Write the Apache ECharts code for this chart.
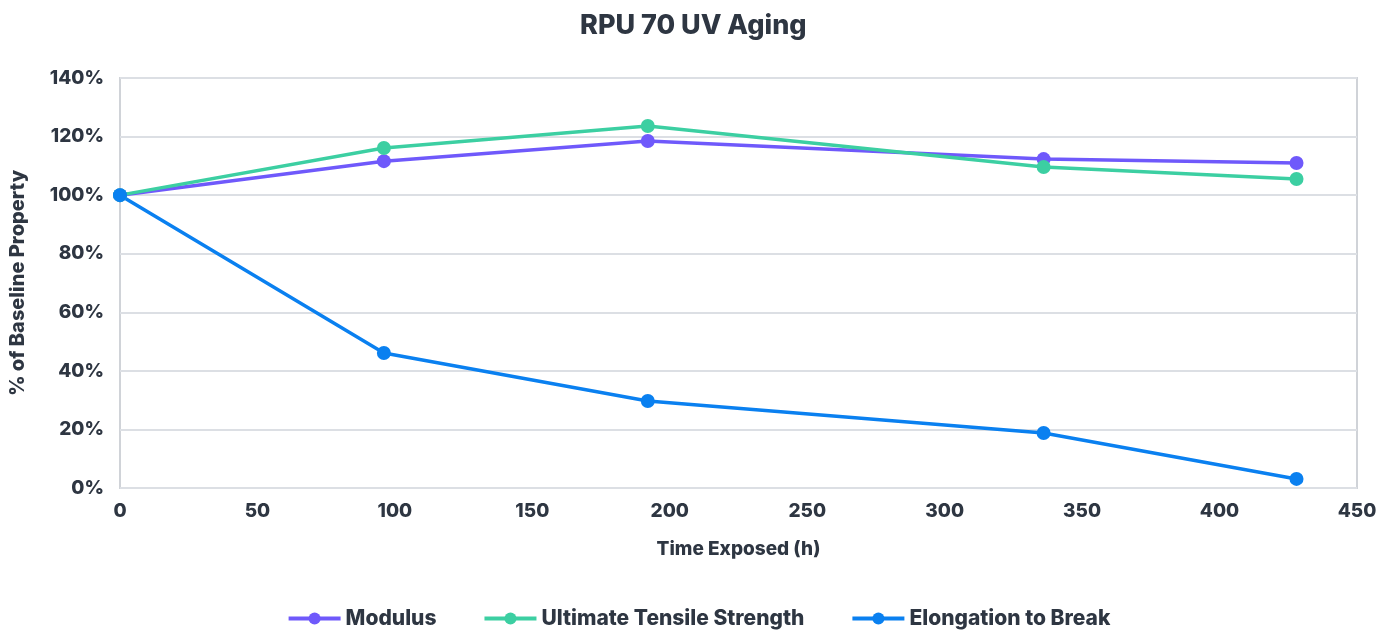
<!DOCTYPE html>
<html>
<head>
<meta charset="utf-8">
<script src="https://cdn.jsdelivr.net/npm/echarts@6/dist/echarts.min.js"></script>
<style>
  html, body { margin: 0; padding: 0; background: #fff; }
</style>
</head>
<body>
<div id="chart" style="width: 1397px; height: 632px"></div>
<script>
// hours of UV exposure
const hours = [0, 96, 192, 336, 428]
const modulus = [100, 111.6, 118.5, 112.3, 111]
const tensile = [100, 116.1, 123.6, 109.6, 105.5]
const elongation = [100, 46.1, 29.7, 18.8, 3.1]

const textColor = '#2e3642'
const fontFamily = 'Inter, Lato, "Noto Sans", sans-serif'

const pairs = vals => hours.map((h, i) => [h, vals[i]])

const makeSeries = (name, vals, color) => ({
  name: name,
  type: 'line',
  data: pairs(vals),
  symbol: 'circle',
  symbolSize: 14,
  lineStyle: { width: 3.5, color: color },
  itemStyle: { color: color },
  emphasis: { disabled: true }
})

const chart = echarts.init(document.getElementById('chart'))
chart.setOption({
  animation: false,
  textStyle: { fontFamily: fontFamily },
  title: {
    text: 'RPU 70 UV Aging',
    left: 575,
    top: 7,
    textStyle: { fontSize: 27, fontWeight: 800, color: textColor, fontFamily: fontFamily }
  },
  legend: {
    bottom: -2,
    left: 'center',
    itemGap: 46,
    itemWidth: 52,
    itemHeight: 15,
    lineStyle: { width: 4 },
    textStyle: { fontSize: 21, fontWeight: 800, color: textColor, fontFamily: fontFamily }
  },
  grid: { left: 118, right: 40, top: 78, bottom: 144, show: true, borderColor: '#d0d3d8', borderWidth: 2 },
  xAxis: {
    type: 'value',
    min: 0,
    max: 450,
    interval: 50,
    name: 'Time Exposed (h)',
    nameLocation: 'middle',
    nameGap: 52,
    nameTextStyle: { fontSize: 19, fontWeight: 800, color: textColor },
    axisLine: { show: false },
    axisTick: { show: false },
    splitLine: { show: false },
    axisLabel: { fontSize: 19, fontWeight: 800, color: textColor, margin: 14 }
  },
  yAxis: {
    type: 'value',
    min: 0,
    max: 140,
    interval: 20,
    name: '% of Baseline Property',
    nameLocation: 'middle',
    nameGap: 92,
    nameTextStyle: { fontSize: 20, fontWeight: 800, color: textColor },
    axisLine: { show: false },
    axisTick: { show: false },
    splitLine: { lineStyle: { color: '#dcdfe4', width: 2 } },
    axisLabel: { fontSize: 19, fontWeight: 800, color: textColor, margin: 16, formatter: '{value}%' }
  },
  series: [
    makeSeries('Modulus', modulus, '#6f59fb'),
    makeSeries('Ultimate Tensile Strength', tensile, '#3ccfa2'),
    makeSeries('Elongation to Break', elongation, '#0a80f0')
  ]
})
</script>
</body>
</html>
